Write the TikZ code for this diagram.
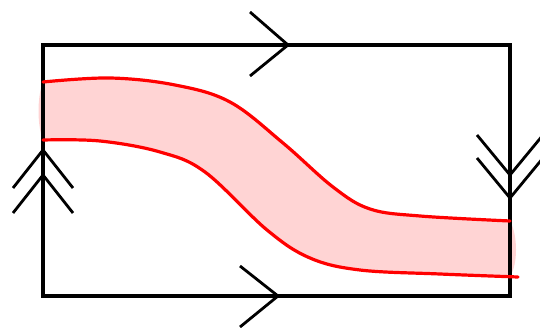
\documentclass[tikz,border=0pt]{standalone}
\usepackage{xcolor}
\usepackage{tikz}
\usetikzlibrary{calc}

\begin{document}
\begin{tikzpicture}[x=1pt,y=-1pt,
  edge/.style={black,line width=3.4pt},
  chev/.style={black,line width=2.8pt,miter limit=20},
  band/.style={red,line width=3.2pt,line join=round,line cap=round},
  bandfill/.style={fill=red!17}]
\useasboundingbox (0,0) rectangle (540,328);
\clip (0,0) rectangle (540,328);
\coordinate (tl) at (43,45);
\coordinate (br) at (510,296);
% strip
\fill[bandfill] plot[smooth,tension=0.6] coordinates {(43,82) (110,78) (175,85) (230,102) (283,143) (333,187) (370,209) (420,216) (510,221)}
  .. controls (518,235) and (518,265) .. (510,276)
  -- plot[smooth,tension=0.6] coordinates {(510,276) (440,274) (360,270) (310,258) (267,230) (205,172) (160,152) (100,141) (43,140)}
  .. controls (37,125) and (37,97) .. (43,82) -- cycle;
\draw[edge] (tl) rectangle (br);
\draw[band] plot[smooth,tension=0.6] coordinates {(43,82) (110,78) (175,85) (230,102) (283,143) (333,187) (370,209) (420,216) (510,221)};
\draw[band] plot[smooth,tension=0.6] coordinates {(43,140) (100,141) (160,152) (205,172) (267,230) (310,258) (360,270) (440,274) (518,277)};
% arrows on the edges
\draw[chev] (250,12) -- (288,45) -- (250,76);
\draw[chev] (240,266) -- (278,296) -- (240,327);
\foreach \y in {150,175}{
  \draw[chev] (13,\y+38) -- (43,\y) -- (73,\y+38);}
\foreach \y in {175,198}{
  \draw[chev] (477,\y-40) -- (510,\y) -- (543,\y-40);}
\end{tikzpicture}
\end{document}
